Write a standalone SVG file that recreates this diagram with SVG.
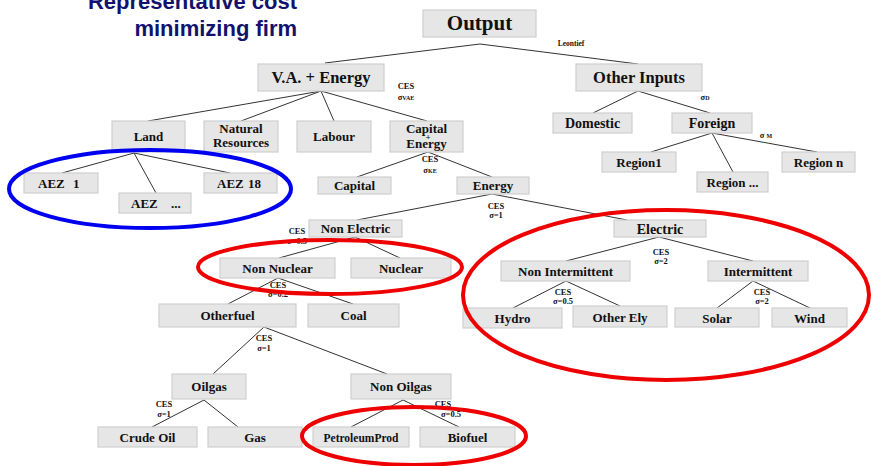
<svg xmlns="http://www.w3.org/2000/svg" width="873" height="466" viewBox="0 0 873 466">
<style>
.b{fill:#e6e6e6;stroke:#cfcfcf;stroke-width:1.2}
.t{font-family:"Liberation Serif","Times New Roman",serif;font-weight:bold;fill:#111;text-anchor:middle}
.s{font-size:13px}
.m{font-size:14px}
.l{font-size:16.5px}
.c{font-family:"Liberation Serif","Times New Roman",serif;font-weight:bold;font-size:8.5px;fill:#111;text-anchor:middle}
.ttl{font-family:"Liberation Sans",Arial,sans-serif;font-weight:bold;font-size:22px;fill:#12126e;text-anchor:end}
#connectors line{stroke:#333;stroke-width:1}
.ell{fill:none;stroke-width:4}
</style>
<rect width="873" height="466" fill="#fff"/>
<text class="ttl" x="297" y="9">Representative cost</text>
<text class="ttl" x="297" y="36">minimizing firm</text>

<g id="connectors">
<line x1="480" y1="44" x2="325" y2="63"/><line x1="480" y1="44" x2="638" y2="64"/>
<line x1="321" y1="91" x2="148" y2="121"/><line x1="321" y1="91" x2="241" y2="121"/><line x1="321" y1="91" x2="334" y2="121"/><line x1="321" y1="91" x2="427" y2="121"/>
<line x1="638" y1="91" x2="593" y2="113"/><line x1="638" y1="91" x2="710" y2="113"/>
<line x1="712" y1="133" x2="651" y2="152"/><line x1="712" y1="133" x2="733" y2="172"/><line x1="712" y1="133" x2="817" y2="152"/>
<line x1="134" y1="153" x2="62" y2="173"/><line x1="134" y1="153" x2="156" y2="193"/><line x1="134" y1="153" x2="230" y2="173"/>
<line x1="428" y1="152" x2="357" y2="177"/><line x1="428" y1="152" x2="492" y2="177"/>
<line x1="492" y1="194" x2="357" y2="220"/><line x1="492" y1="194" x2="627" y2="220"/>
<line x1="355" y1="237" x2="279" y2="258"/><line x1="355" y1="237" x2="400" y2="258"/>
<line x1="659" y1="237" x2="566" y2="261"/><line x1="659" y1="237" x2="753" y2="261"/>
<line x1="278" y1="278" x2="228" y2="304"/><line x1="278" y1="278" x2="353" y2="304"/>
<line x1="566" y1="281" x2="513" y2="308"/><line x1="566" y1="281" x2="620" y2="306"/>
<line x1="753" y1="281" x2="717" y2="308"/><line x1="753" y1="281" x2="810" y2="308"/>
<line x1="264" y1="327" x2="213" y2="374"/><line x1="264" y1="327" x2="387" y2="374"/>
<line x1="204" y1="400" x2="152" y2="427"/><line x1="204" y1="400" x2="238" y2="427"/>
<line x1="403" y1="400" x2="351" y2="427"/><line x1="403" y1="400" x2="459" y2="427"/>
</g>

<g id="output"><rect class="b" x="423" y="10" width="113" height="27"/><text class="t" x="479.5" y="30" style="font-size:21px">Output</text></g>
<g id="va-energy"><rect class="b" x="258" y="64" width="126" height="27"/><text class="t l" x="321" y="83">V.A. + Energy</text></g>
<g id="other-inputs"><rect class="b" x="576" y="64" width="126" height="27"/><text class="t l" x="639" y="83">Other Inputs</text></g>
<g id="land"><rect class="b" x="112" y="121" width="73" height="31"/><text class="t s" x="148.5" y="141">Land</text></g>
<g id="natural-resources"><rect class="b" x="204" y="121" width="74" height="31"/><text class="t s" x="241" y="133">Natural</text><text class="t s" x="241" y="147">Resources</text></g>
<g id="labour"><rect class="b" x="297" y="121" width="74" height="31"/><text class="t s" x="334" y="141">Labour</text></g>
<g id="capital-energy"><rect class="b" x="390" y="121" width="73" height="31"/><text class="t s" x="426.5" y="133">Capital</text><text class="t" x="428" y="140" style="font-size:9px">+</text><text class="t s" x="426.5" y="148">Energy</text></g>
<g id="domestic"><rect class="b" x="553" y="113" width="79" height="20"/><text class="t m" x="592.5" y="128">Domestic</text></g>
<g id="foreign"><rect class="b" x="672" y="113" width="80" height="20"/><text class="t m" x="712" y="128">Foreign</text></g>
<g id="region1"><rect class="b" x="602" y="152" width="74" height="20"/><text class="t s" x="639" y="166.5">Region1</text></g>
<g id="region-etc"><rect class="b" x="697" y="172" width="71" height="20"/><text class="t s" x="732.5" y="186.5">Region ...</text></g>
<g id="region-n"><rect class="b" x="782" y="152" width="73" height="20"/><text class="t s" x="818.5" y="166.5">Region n</text></g>
<g id="aez1"><rect class="b" x="24" y="173" width="74" height="20"/><text class="t s" x="38" y="187.5" style="text-anchor:start">AEZ<tspan x="73">1</tspan></text></g>
<g id="aez-etc"><rect class="b" x="119" y="193" width="72" height="20"/><text class="t s" x="131" y="207.5" style="text-anchor:start">AEZ<tspan x="171">...</tspan></text></g>
<g id="aez18"><rect class="b" x="204" y="173" width="73" height="20"/><text class="t s" x="217" y="187.5" style="text-anchor:start">AEZ<tspan x="248">18</tspan></text></g>
<g id="capital"><rect class="b" x="318" y="177" width="73" height="17"/><text class="t s" x="354.5" y="190">Capital</text></g>
<g id="energy"><rect class="b" x="457" y="177" width="72" height="17"/><text class="t s" x="493" y="190">Energy</text></g>
<g id="non-electric"><rect class="b" x="309" y="220" width="93" height="17"/><text class="t s" x="355.5" y="233">Non Electric</text></g>
<g id="electric"><rect class="b" x="614" y="220" width="92" height="17"/><text class="t m" x="660" y="233.5">Electric</text></g>
<g id="non-nuclear"><rect class="b" x="220" y="258" width="115" height="20"/><text class="t s" x="277.5" y="273">Non Nuclear</text></g>
<g id="nuclear"><rect class="b" x="351" y="258" width="100" height="20"/><text class="t s" x="401" y="273">Nuclear</text></g>
<g id="non-intermittent"><rect class="b" x="501" y="261" width="129" height="20"/><text class="t s" x="565.5" y="276">Non Intermittent</text></g>
<g id="intermittent"><rect class="b" x="708" y="261" width="100" height="20"/><text class="t s" x="758" y="276">Intermittent</text></g>
<g id="other-fuel"><rect class="b" x="159" y="304" width="137" height="23"/><text class="t s" x="227.5" y="320">Otherfuel</text></g>
<g id="coal"><rect class="b" x="308" y="304" width="91" height="23"/><text class="t s" x="353.5" y="320">Coal</text></g>
<g id="hydro"><rect class="b" x="463" y="308" width="99" height="20"/><text class="t s" x="512.5" y="323">Hydro</text></g>
<g id="other-ely"><rect class="b" x="573" y="306" width="94" height="21"/><text class="t s" x="620" y="321.5">Other Ely</text></g>
<g id="solar"><rect class="b" x="675" y="308" width="84" height="19"/><text class="t s" x="717" y="322.5">Solar</text></g>
<g id="wind"><rect class="b" x="772" y="308" width="75" height="19"/><text class="t s" x="809.5" y="322.5">Wind</text></g>
<g id="oilgas"><rect class="b" x="172" y="374" width="74" height="25"/><text class="t s" x="209" y="391">Oilgas</text></g>
<g id="non-oilgas"><rect class="b" x="351" y="374" width="100" height="25"/><text class="t s" x="401" y="391">Non Oilgas</text></g>
<g id="crude-oil"><rect class="b" x="98" y="427" width="99" height="20"/><text class="t s" x="147.5" y="441.5">Crude Oil</text></g>
<g id="gas"><rect class="b" x="208" y="427" width="94" height="20"/><text class="t s" x="255" y="441.5">Gas</text></g>
<g id="petroleum-prod"><rect class="b" x="313" y="427" width="96" height="20"/><text class="t" x="361" y="441.5" style="font-size:11.5px">PetroleumProd</text></g>
<g id="biofuel"><rect class="b" x="420" y="427" width="95" height="20"/><text class="t s" x="467.5" y="441.5">Biofuel</text></g>

<g id="labels">
<text class="c" x="571" y="46" style="font-size:7.5px">Leontief</text>
<text class="c" x="406" y="89">CES</text><text class="c" x="406" y="100">σ<tspan style="font-size:6px">VAE</tspan></text>
<text class="c" x="705" y="100">σ<tspan style="font-size:6px">D</tspan></text>
<text class="c" x="766" y="138">σ <tspan style="font-size:6px">M</tspan></text>
<text class="c" x="430" y="162">CES</text><text class="c" x="430" y="173">σ<tspan style="font-size:6px">KE</tspan></text>
<text class="c" x="496" y="209">CES</text><text class="c" x="496" y="218">σ=1</text>
<text class="c" x="297" y="234">CES</text><text class="c" x="297" y="244">σ=0.5</text>
<text class="c" x="278" y="288">CES</text><text class="c" x="278" y="297">σ=0.2</text>
<text class="c" x="661" y="255">CES</text><text class="c" x="661" y="264">σ=2</text>
<text class="c" x="563" y="295">CES</text><text class="c" x="563" y="304">σ=0.5</text>
<text class="c" x="762" y="295">CES</text><text class="c" x="762" y="304">σ=2</text>
<text class="c" x="264" y="341">CES</text><text class="c" x="264" y="351">σ=1</text>
<text class="c" x="164" y="407">CES</text><text class="c" x="164" y="417">σ=1</text>
<text class="c" x="443" y="407">CES</text><text class="c" x="451" y="417">σ=0.5</text>
</g>

<g id="highlights">
<ellipse class="ell" cx="150" cy="189" rx="141" ry="39" stroke="#0000f0"/>
<ellipse class="ell" cx="330" cy="267" rx="132" ry="27" stroke="#ee0000"/>
<ellipse class="ell" cx="666" cy="295" rx="203" ry="85" stroke="#ee0000"/>
<ellipse class="ell" cx="414" cy="436" rx="112" ry="29" stroke="#ee0000"/>
</g>
</svg>
